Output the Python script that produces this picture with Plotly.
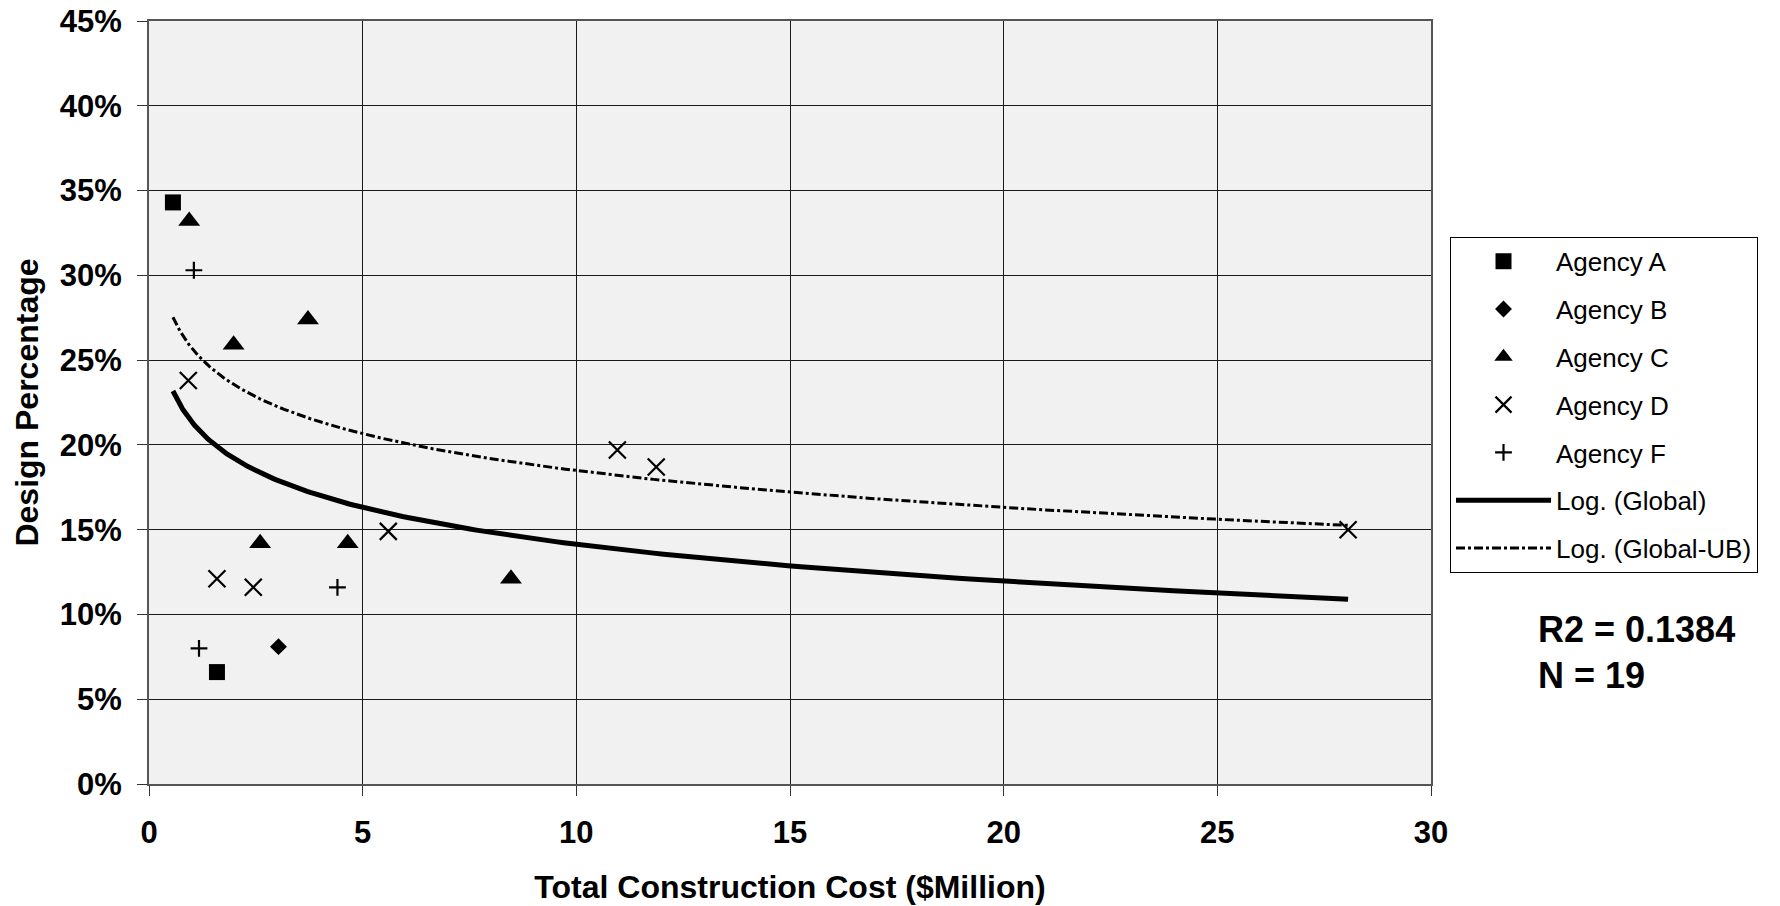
import numpy as np
import plotly.graph_objects as go

# ---- data ----
agency_a_x = [0.56, 1.59]
agency_a_y = [34.3, 6.6]

agency_b_x = [3.03]
agency_b_y = [8.1]

agency_c_x = [0.94, 1.98, 3.72, 2.60, 4.65, 8.47]
agency_c_y = [33.2, 25.9, 27.4, 14.2, 14.2, 12.1]

agency_d_x = [0.92, 1.59, 2.44, 5.60, 10.96, 11.87, 28.06]
agency_d_y = [23.8, 12.1, 11.6, 14.9, 19.7, 18.7, 15.0]

agency_f_x = [1.05, 1.17, 4.41]
agency_f_y = [30.3, 8.0, 11.6]

ub_offset = 4.35  # upper-bound curve offset (percentage points)

x_ticks = [0, 5, 10, 15, 20, 25, 30]
y_ticks = [0, 5, 10, 15, 20, 25, 30, 35, 40, 45]
y_tick_labels = [f"{v}%" for v in y_ticks]

# ---- logarithmic trendline fit on all points ----
all_x = np.array(agency_a_x + agency_b_x + agency_c_x + agency_d_x + agency_f_x)
all_y = np.array(agency_a_y + agency_b_y + agency_c_y + agency_d_y + agency_f_y)
b_coef, a_coef = np.polyfit(np.log(all_x), all_y, 1)
curve_x = np.geomspace(all_x.min(), all_x.max(), 200)
curve_y = a_coef + b_coef * np.log(curve_x)
curve_ub = curve_y + ub_offset

FONT = "Arial, Liberation Sans, sans-serif"

W, H = 1780, 906
PL, PR, PT, PB = 149, 1431, 20.7, 784.3
PW, PH = PR - PL, PB - PT


def px_x(xpage):
    return (xpage - PL) / PW


def px_y(ypage):
    return (PB - ypage) / PH


fig = go.Figure()


def add_pts(x, y, name, symbol, size, filled=True):
    if filled:
        marker = dict(symbol=symbol, size=size, color="black")
    else:
        marker = dict(symbol=symbol, size=size, color="black",
                      line=dict(color="black", width=2.2))
    fig.add_trace(go.Scatter(x=x, y=y, mode="markers", name=name,
                             marker=marker, legendgroup=name))


add_pts(agency_a_x, agency_a_y, "Agency A", "square", 16)
add_pts(agency_b_x, agency_b_y, "Agency B", "diamond", 13)
add_pts(agency_c_x, agency_c_y, "Agency C", "triangle-up", 19)
add_pts(agency_d_x, agency_d_y, "Agency D", "x-thin", 17, filled=False)
add_pts(agency_f_x, agency_f_y, "Agency F", "cross-thin", 12, filled=False)

fig.add_trace(go.Scatter(x=curve_x, y=curve_y, mode="lines",
                         name="Log. (Global)", legendgroup="g1",
                         line=dict(color="black", width=5)))
fig.add_trace(go.Scatter(x=curve_x, y=curve_ub, mode="lines",
                         name="Log. (Global-UB)", legendgroup="g2",
                         line=dict(color="black", width=3,
                                   dash="9px,3px,3px,3px")))

fig.update_layout(
    width=W, height=H,
    margin=dict(l=PL, r=W - PR, t=PT, b=H - PB, autoexpand=False),
    paper_bgcolor="white",
    plot_bgcolor="#f1f1f1",
    font=dict(family=FONT, color="black"),
    showlegend=True,
    legend=dict(
        x=px_x(1450), xanchor="left",
        y=px_y(236.7), yanchor="top",
        bgcolor="white", bordercolor="black", borderwidth=1,
        font=dict(family=FONT, size=26, color="black"),
        tracegroupgap=11, itemwidth=95,
    ),
    annotations=[
        dict(text="<b>R2 = 0.1384</b>", xref="paper", yref="paper",
             x=px_x(1536), y=px_y(630),
             xanchor="left", yanchor="middle", showarrow=False,
             font=dict(family=FONT, size=36, color="black")),
        dict(text="<b>N = 19</b>", xref="paper", yref="paper",
             x=px_x(1536), y=px_y(676),
             xanchor="left", yanchor="middle", showarrow=False,
             font=dict(family=FONT, size=36, color="black")),
    ],
)

fig.update_xaxes(
    range=[0, 30], tickvals=x_ticks, ticktext=[str(v) for v in x_ticks],
    automargin=False, ticklabeloverflow="allow",
    showgrid=True, gridcolor="#1a1a1a", gridwidth=1,
    showline=True, linecolor="#555555", linewidth=2, mirror=True,
    ticks="outside", ticklen=10, tickcolor="#333333", tickwidth=1,
    tickfont=dict(family=FONT, size=31, color="black", weight="bold"),
    ticklabelstandoff=10,
    zeroline=False,
    title=dict(text="<b>Total Construction Cost ($Million)</b>",
               font=dict(family=FONT, size=32, color="black"), standoff=26),
)
fig.update_yaxes(
    range=[0, 45], tickvals=y_ticks, ticktext=y_tick_labels,
    automargin=False, ticklabeloverflow="allow",
    showgrid=True, gridcolor="#1a1a1a", gridwidth=1,
    showline=True, linecolor="#555555", linewidth=2, mirror=True,
    ticks="outside", ticklen=10, tickcolor="#333333", tickwidth=1,
    tickfont=dict(family=FONT, size=31, color="black", weight="bold"),
    ticklabelstandoff=9,
    zeroline=False,
    title=dict(text="<b>Design Percentage</b>",
               font=dict(family=FONT, size=32, color="black"), standoff=12),
)

fig.write_html(
    "out.html",
    config={"displayModeBar": False},
    post_script="document.body.style.margin='0';document.body.style.overflow='hidden';",
)
